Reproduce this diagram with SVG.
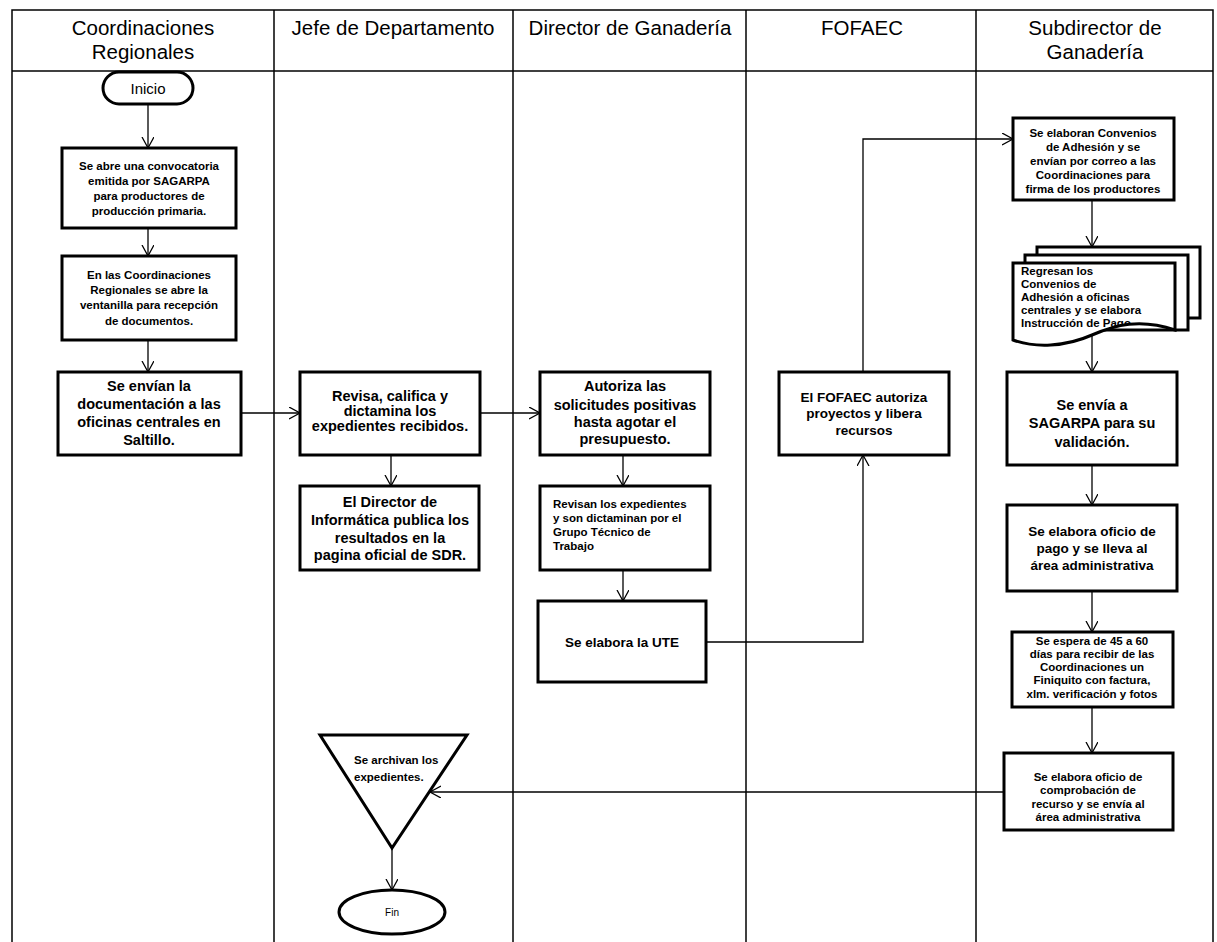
<svg xmlns="http://www.w3.org/2000/svg" width="1217" height="942" viewBox="0 0 1217 942">
  <style>
    .lane { stroke: #000; stroke-width: 1.5; fill: none; }
    .hdr { font-family: "Liberation Sans", Arial, sans-serif; font-size: 20.5px; fill: #000; text-anchor: middle; }
    .box { fill: #fff; stroke: #000; stroke-width: 3; }
    .t { font-family: "Liberation Sans", Arial, sans-serif; font-weight: bold; fill: #000; text-anchor: middle; dominant-baseline: central; }
    .s11 { font-size: 11.5px; }
    .s13 { font-size: 13.5px; }
    .s14 { font-size: 14.5px; }
    .left { text-anchor: start; }
    .edge { stroke: #000; stroke-width: 1.3; fill: none; marker-end: url(#arrow); }
  </style>
  <defs>
    <marker id="arrow" markerUnits="userSpaceOnUse" markerWidth="14" markerHeight="14" refX="11" refY="6" orient="auto">
      <path d="M0,0 L11,6 L0,12" fill="none" stroke="#000" stroke-width="1.3"/>
    </marker>
    <clipPath id="docClip">
      <path d="M1013,263 L1175,263 L1175,330 C1140,318 1115,325 1092,335 C1065,347 1035,348 1013,340 Z"/>
    </clipPath>
  </defs>

  <rect width="1217" height="942" fill="#fff"/>

  <!-- swimlane frame -->
  <g id="lanes">
    <path class="lane" d="M12,942 V10 H1213 V942"/>
    <line class="lane" x1="12" y1="71" x2="1213" y2="71"/>
    <line class="lane" x1="274" y1="10" x2="274" y2="942"/>
    <line class="lane" x1="513" y1="10" x2="513" y2="942"/>
    <line class="lane" x1="746" y1="10" x2="746" y2="942"/>
    <line class="lane" x1="976" y1="10" x2="976" y2="942"/>
    <text class="hdr" x="143" y="35">Coordinaciones</text>
    <text class="hdr" x="143" y="59">Regionales</text>
    <text class="hdr" x="393" y="35">Jefe de Departamento</text>
    <text class="hdr" x="630" y="35">Director de Ganadería</text>
    <text class="hdr" x="862" y="35">FOFAEC</text>
    <text class="hdr" x="1095" y="35">Subdirector de</text>
    <text class="hdr" x="1095" y="59">Ganadería</text>
  </g>

  <!-- connectors -->
  <g id="connectors">
    <line class="edge" x1="148" y1="104" x2="148" y2="148"/>
    <line class="edge" x1="148" y1="228" x2="148" y2="256"/>
    <line class="edge" x1="148" y1="340" x2="148" y2="372"/>
    <line class="edge" x1="241" y1="413" x2="300" y2="413"/>
    <line class="edge" x1="391" y1="455" x2="391" y2="486"/>
    <line class="edge" x1="480" y1="413" x2="540" y2="413"/>
    <line class="edge" x1="623" y1="455" x2="623" y2="486"/>
    <line class="edge" x1="623" y1="570" x2="623" y2="601"/>
    <polyline class="edge" points="706,642 863,642 863,455"/>
    <polyline class="edge" points="863,372 863,139 1013,139"/>
    <line class="edge" x1="1092" y1="200" x2="1092" y2="247"/>
    <line class="edge" x1="1092" y1="336" x2="1092" y2="372"/>
    <line class="edge" x1="1092" y1="465" x2="1092" y2="505"/>
    <line class="edge" x1="1092" y1="591" x2="1092" y2="632"/>
    <line class="edge" x1="1092" y1="707" x2="1092" y2="753"/>
    <line class="edge" x1="1004" y1="792" x2="430" y2="792"/>
    <line class="edge" x1="392" y1="848" x2="392" y2="890"/>
  </g>

  <!-- Coordinaciones Regionales -->
  <g id="inicio">
    <rect class="box" x="103" y="72" width="90" height="32" rx="16"/>
    <text class="t" x="148" y="88" style="font-weight:normal;font-size:15px">Inicio</text>
  </g>
  <g id="convocatoria">
    <rect class="box" x="62" y="148" width="174" height="80"/>
    <text class="t s11" x="149" y="166">Se abre una convocatoria</text>
    <text class="t s11" x="149" y="181">emitida por  SAGARPA</text>
    <text class="t s11" x="149" y="196">para productores de</text>
    <text class="t s11" x="149" y="211">producción primaria.</text>
  </g>
  <g id="ventanilla">
    <rect class="box" x="62" y="256" width="174" height="84"/>
    <text class="t s11" x="149" y="275">En las Coordinaciones</text>
    <text class="t s11" x="149" y="290">Regionales se abre la</text>
    <text class="t s11" x="149" y="305">ventanilla para recepción</text>
    <text class="t s11" x="149" y="321">de documentos.</text>
  </g>
  <g id="envio-documentacion">
    <rect class="box" x="58" y="372" width="183" height="83"/>
    <text class="t s14" x="149" y="386">Se envían la</text>
    <text class="t s14" x="149" y="404">documentación a las</text>
    <text class="t s14" x="149" y="422">oficinas centrales en</text>
    <text class="t s14" x="149" y="440">Saltillo.</text>
  </g>

  <!-- Jefe de Departamento -->
  <g id="revisa">
    <rect class="box" x="300" y="372" width="180" height="83"/>
    <text class="t s14" x="390" y="396">Revisa, califica y</text>
    <text class="t s14" x="390" y="411">dictamina los</text>
    <text class="t s14" x="390" y="426">expedientes recibidos.</text>
  </g>
  <g id="publica-resultados">
    <rect class="box" x="300" y="486" width="179" height="84"/>
    <text class="t s14" x="390" y="502">El Director de</text>
    <text class="t s14" x="390" y="520">Informática publica los</text>
    <text class="t s14" x="390" y="538">resultados  en la</text>
    <text class="t s14" x="390" y="555">pagina oficial de SDR.</text>
  </g>
  <g id="archivo">
    <polygon class="box" points="320,735 467,735 392,848" stroke-linejoin="miter"/>
    <text class="t s11 left" x="354" y="760">Se archivan los</text>
    <text class="t s11 left" x="354" y="777">expedientes.</text>
  </g>
  <g id="fin">
    <ellipse class="box" cx="392" cy="912" rx="53" ry="22"/>
    <text class="t" x="392" y="912" style="font-weight:normal;font-size:10px">Fin</text>
  </g>

  <!-- Director de Ganadería -->
  <g id="autoriza">
    <rect class="box" x="540" y="372" width="170" height="83"/>
    <text class="t s14" x="625" y="386">Autoriza las</text>
    <text class="t s14" x="625" y="405">solicitudes positivas</text>
    <text class="t s14" x="625" y="422">hasta agotar el</text>
    <text class="t s14" x="625" y="439">presupuesto.</text>
  </g>
  <g id="dictamen-grupo-tecnico">
    <rect class="box" x="540" y="486" width="170" height="84"/>
    <text class="t s11 left" x="553" y="504">Revisan los expedientes</text>
    <text class="t s11 left" x="553" y="518">y son dictaminan por el</text>
    <text class="t s11 left" x="553" y="532">Grupo  Técnico de</text>
    <text class="t s11 left" x="553" y="546">Trabajo</text>
  </g>
  <g id="ute">
    <rect class="box" x="538" y="601" width="168" height="81"/>
    <text class="t s13" x="622" y="642">Se elabora la UTE</text>
  </g>

  <!-- FOFAEC -->
  <g id="fofaec-autoriza">
    <rect class="box" x="779" y="372" width="170" height="83"/>
    <text class="t s13" x="864" y="397">El FOFAEC  autoriza</text>
    <text class="t s13" x="864" y="413">proyectos y libera</text>
    <text class="t s13" x="864" y="430">recursos</text>
  </g>

  <!-- Subdirector de Ganadería -->
  <g id="convenios">
    <rect class="box" x="1013" y="118" width="161" height="82"/>
    <text class="t s11" x="1093" y="133">Se elaboran Convenios</text>
    <text class="t s11" x="1093" y="147">de Adhesión y se</text>
    <text class="t s11" x="1093" y="161">envían por correo a las</text>
    <text class="t s11" x="1093" y="175">Coordinaciones para</text>
    <text class="t s11" x="1093" y="189">firma de los productores</text>
  </g>
  <g id="regreso-convenios">
    <rect class="box" x="1037" y="247" width="163" height="71"/>
    <rect class="box" x="1025" y="255" width="163" height="75"/>
    <path class="box" d="M1013,263 L1175,263 L1175,330 C1140,318 1115,325 1092,335 C1065,347 1035,348 1013,340 Z"/>
    <g clip-path="url(#docClip)">
      <text class="t s11 left" x="1021" y="271">Regresan los</text>
      <text class="t s11 left" x="1021" y="284">Convenios de</text>
      <text class="t s11 left" x="1021" y="297">Adhesión a oficinas</text>
      <text class="t s11 left" x="1021" y="310">centrales y se elabora</text>
      <text class="t s11 left" x="1021" y="323">Instrucción de Pago</text>
    </g>
  </g>
  <g id="validacion-sagarpa">
    <rect class="box" x="1007" y="372" width="170" height="93"/>
    <text class="t s14" x="1092" y="405">Se envía a</text>
    <text class="t s14" x="1092" y="423">SAGARPA  para su</text>
    <text class="t s14" x="1092" y="442">validación.</text>
  </g>
  <g id="oficio-pago">
    <rect class="box" x="1007" y="505" width="170" height="86"/>
    <text class="t s13" x="1092" y="531">Se elabora oficio de</text>
    <text class="t s13" x="1092" y="548">pago y se lleva al</text>
    <text class="t s13" x="1092" y="565">área administrativa</text>
  </g>
  <g id="finiquito">
    <rect class="box" x="1012" y="632" width="161" height="75"/>
    <text class="t s11" x="1092" y="641">Se espera de 45 a 60</text>
    <text class="t s11" x="1092" y="654">días para recibir de las</text>
    <text class="t s11" x="1092" y="667">Coordinaciones un</text>
    <text class="t s11" x="1092" y="680">Finiquito  con factura,</text>
    <text class="t s11" x="1092" y="694">xlm. verificación y fotos</text>
  </g>
  <g id="comprobacion">
    <rect class="box" x="1004" y="753" width="169" height="77"/>
    <text class="t s11" x="1088" y="777">Se elabora oficio de</text>
    <text class="t s11" x="1088" y="790">comprobación de</text>
    <text class="t s11" x="1088" y="804">recurso y se envía al</text>
    <text class="t s11" x="1088" y="817">área administrativa</text>
  </g>
</svg>
